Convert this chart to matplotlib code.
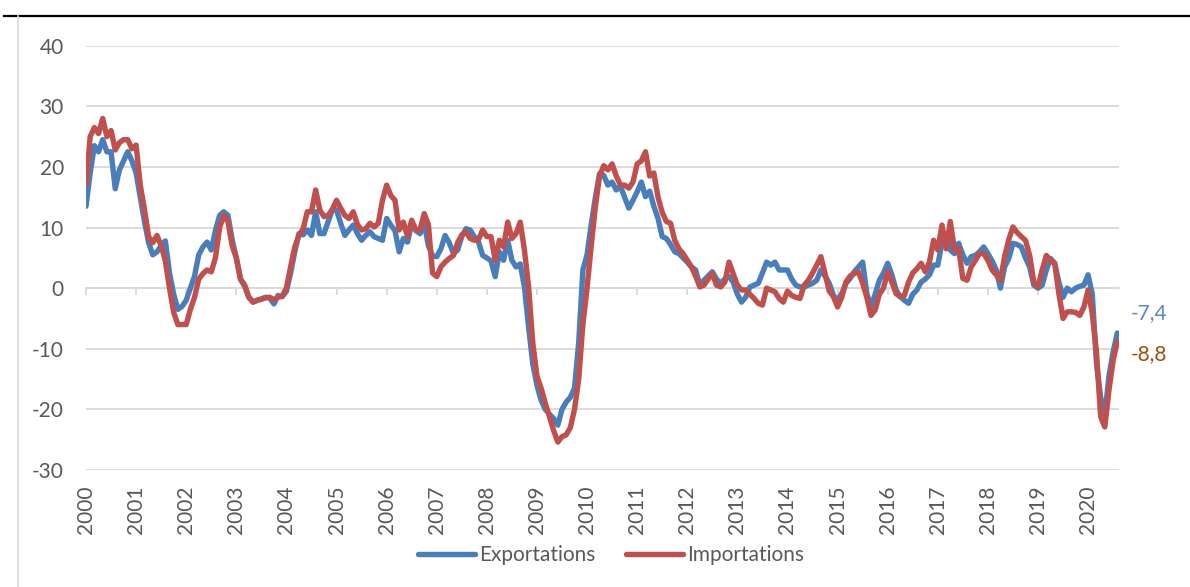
import numpy as np
import matplotlib
matplotlib.use("Agg")
import matplotlib.pyplot as plt
from matplotlib.lines import Line2D

years = [str(y) for y in range(2000, 2021)]

exportations = [
    13.5, 19.0, 23.5, 22.5, 24.5, 22.5, 22.5, 16.4, 19.5, 21.0, 22.5, 21.0,
    19.0, 15.0, 11.0, 7.5, 5.5, 6.0, 7.0, 7.8, 2.5, -1.0, -3.5, -3.0,
    -2.0, 0.0, 2.0, 5.5, 6.8, 7.6, 6.3, 9.5, 12.0, 12.6, 12.0, 8.0,
    5.0, 1.5, 0.3, -1.5, -2.3, -2.0, -1.8, -1.5, -1.6, -2.6, -1.2, -1.4,
    -0.5, 2.5, 6.0, 9.0, 8.8, 9.6, 8.7, 12.6, 9.0, 9.0, 11.0, 12.9,
    12.9, 10.7, 8.7, 9.6, 10.4, 9.0, 7.9, 8.7, 9.3, 8.5, 8.2, 7.9,
    11.5, 10.4, 9.5, 6.0, 8.2, 7.6, 10.7, 9.5, 9.0, 10.7, 7.0, 5.3,
    5.2, 6.5, 8.7, 7.5, 5.7, 6.3, 8.5, 9.8, 9.6, 8.5, 7.6, 5.4,
    5.0, 4.5, 1.9, 6.0, 4.6, 7.9, 4.6, 3.5, 4.0, 0.2, -6.4, -12.5,
    -16.0, -18.5, -20.0, -20.8, -21.5, -22.6, -20.0, -18.8, -18.0, -16.5, -9.0, 3.0,
    5.5, 10.5, 15.0, 18.9, 18.6, 17.0, 17.5, 16.2, 16.8, 15.0, 13.2, 14.5,
    15.9, 17.5, 15.1, 16.0, 13.5, 11.5, 8.5, 8.2, 7.2, 6.0, 5.7, 5.0,
    4.3, 3.5, 3.0, 0.5, 1.3, 2.0, 2.7, 1.5, 0.8, 1.5, 1.9, 1.0,
    -1.0, -2.3, -1.5, 0.2, 0.5, 0.8, 2.5, 4.3, 3.8, 4.3, 3.0, 3.0,
    3.0, 1.5, 0.5, 0.2, 0.2, 0.5, 0.8, 1.3, 3.0, 2.0, 0.8, -1.2,
    -2.0, -0.9, 0.8, 1.6, 2.7, 3.5, 4.3, -0.9, -3.1, -1.0, 1.3, 2.5,
    4.1, 2.2, -0.3, -1.4, -2.0, -2.5, -1.0, -0.3, 1.0, 1.5, 2.2, 3.8,
    3.8, 7.5, 9.0, 6.3, 5.7, 7.4, 5.5, 4.1, 5.2, 5.4, 6.0, 6.8,
    5.7, 4.5, 3.0, 0.0, 3.5, 4.9, 7.4, 7.2, 6.8, 5.0, 3.5, 0.5,
    0.0, 0.5, 3.0, 4.9, 4.1, 1.0, -1.5, 0.0, -0.6, 0.0, 0.3, 0.5,
    2.2, -1.0, -12.4, -18.0, -21.0, -14.5, -10.5, -7.4,
]

importations = [
    17.0, 25.0, 26.5, 25.5, 28.0, 25.0, 26.0, 22.8, 24.0, 24.5, 24.5, 23.0,
    23.6, 17.0, 13.0, 8.5, 7.5, 8.7, 7.0, 4.5, 0.0, -4.0, -6.0, -6.0,
    -6.0, -3.5, -1.5, 1.5, 2.4, 3.0, 2.7, 5.0, 10.0, 12.0, 11.0, 7.0,
    5.0, 1.5, 0.5, -1.5, -2.3, -2.0, -1.8, -1.6, -1.5, -1.9, -1.5, -1.3,
    0.0, 3.5, 6.8, 8.7, 9.8, 12.6, 12.6, 16.2, 12.9, 11.8, 12.0, 13.0,
    14.5, 13.2, 12.0, 11.5, 12.6, 10.5, 9.6, 9.8, 10.7, 10.1, 10.7, 14.5,
    17.0, 15.3, 14.5, 9.6, 10.9, 8.5, 11.2, 9.6, 9.6, 12.3, 10.5, 2.5,
    1.9, 3.5, 4.3, 4.9, 5.4, 7.5, 8.8, 9.3, 8.2, 7.9, 8.0, 9.6,
    8.5, 8.5, 4.6, 7.9, 6.8, 10.9, 8.2, 9.0, 10.9, 6.3, 0.2, -9.0,
    -14.5, -16.5, -19.0, -21.2, -23.5, -25.4, -24.5, -24.2, -23.0, -20.0, -15.0, -6.0,
    0.0, 7.0, 13.5, 18.5, 20.2, 19.5, 20.5, 18.5, 17.0, 17.0, 16.5, 17.5,
    20.5, 21.0, 22.5, 18.5, 19.0, 15.0, 12.5, 11.0, 10.7, 7.9, 6.5, 5.7,
    4.6, 3.5, 2.0, 0.2, 0.5, 1.5, 2.4, 0.5, 0.2, 1.0, 4.3, 2.4,
    0.5, -0.3, -0.3, -1.0, -1.7, -2.5, -2.8, 0.0, -0.3, -0.6, -1.7, -2.3,
    -0.5, -1.2, -1.5, -1.7, 0.5, 1.3, 2.5, 3.8, 5.2, 2.4, -0.5, -1.4,
    -3.1, -1.5, 1.0, 2.0, 2.4, 2.7, 0.8, -1.5, -4.5, -3.6, -1.0, 0.0,
    2.7, 1.0, -0.9, -1.4, -1.2, 1.0, 2.5, 3.2, 4.1, 2.7, 4.3, 7.9,
    6.3, 10.4, 6.5, 11.0, 6.3, 6.5, 1.6, 1.3, 3.5, 4.6, 5.7, 5.7,
    4.6, 3.0, 2.2, 1.3, 5.2, 8.0, 10.1, 9.2, 8.5, 7.9, 5.4, 1.0,
    0.2, 3.0, 5.4, 4.5, 4.1, -0.9, -5.0, -3.9, -3.9, -4.0, -4.5, -3.1,
    -0.3, -4.2, -10.5, -21.2, -22.9, -16.8, -11.9, -8.8,
]

series_names = ["Exportations", "Importations"]
last_labels = ["-7,4", "-8,8"]

assert len(exportations) == len(importations) == 248

plt.rcParams['font.family'] = ['Lato', 'DejaVu Sans']
plt.rcParams['axes.unicode_minus'] = False
TXT = '#595959'
GRID = '#D9D9D9'
BLUE = '#4A7EBB'
RED = '#C0504D'
FS = 15
LW = 3.9

W, H = 1190, 587
fig = plt.figure(figsize=(W / 100, H / 100), dpi=100)
ax = fig.add_axes([86 / W, 1 - 470 / H, (1119 - 86) / W, (470 - 45.7) / H])

x = np.arange(len(exportations))
ax.plot(x, exportations, color=BLUE, lw=LW, solid_joinstyle='round',
        solid_capstyle='round', label=series_names[0], zorder=3)
ax.plot(x, importations, color=RED, lw=LW, solid_joinstyle='round',
        solid_capstyle='round', label=series_names[1], zorder=4)

ax.set_xlim(0, 247.4)
ax.set_ylim(-30, 40)
ax.set_yticks(range(-30, 41, 10))
ax.grid(axis='y', color=GRID, lw=1.3)
ax.set_axisbelow(True)
for s in ['top', 'right', 'left']:
    ax.spines[s].set_visible(False)
ax.spines['bottom'].set_position(('data', 0))
ax.spines['bottom'].set_color(GRID)
ax.spines['bottom'].set_linewidth(1.3)
ticks = np.arange(0, len(exportations), 12)
ax.set_xticks(ticks)
ax.tick_params(axis='x', direction='out', length=5, width=1.3, color=GRID,
               labelbottom=False)
ax.tick_params(axis='y', length=0, pad=16, labelsize=FS, labelcolor=TXT)

sec = ax.secondary_xaxis('bottom')
sec.set_xticks(ticks, labels=years, rotation=90)
sec.tick_params(length=0, pad=11, labelsize=FS, labelcolor=TXT)
sec.spines['bottom'].set_visible(False)

ax.annotate(last_labels[0], xy=(x[-1], exportations[-1]), xytext=(13, 20),
            textcoords='offset pixels', ha='left', va='center',
            color='#5B87C5', fontsize=FS, annotation_clip=False)
ax.annotate(last_labels[1], xy=(x[-1], importations[-1]), xytext=(13, -13),
            textcoords='offset pixels', ha='left', va='center',
            color='#9E4E12', fontsize=FS, annotation_clip=False)

fig.legend(loc='center', bbox_to_anchor=(611 / W, 1 - 555 / H), ncol=2,
           frameon=False, handlelength=2.7, handletextpad=0.2,
           columnspacing=1.5, fontsize=FS, labelcolor=TXT)

fig.add_artist(Line2D([4 / W, 1], [1 - 15.5 / H] * 2, color='black', lw=1.6,
                      transform=fig.transFigure))
fig.add_artist(Line2D([17.5 / W] * 2, [0, 1 - 16 / H], color=GRID, lw=1.2,
                      transform=fig.transFigure))

fig.savefig('out.png', dpi=100)
